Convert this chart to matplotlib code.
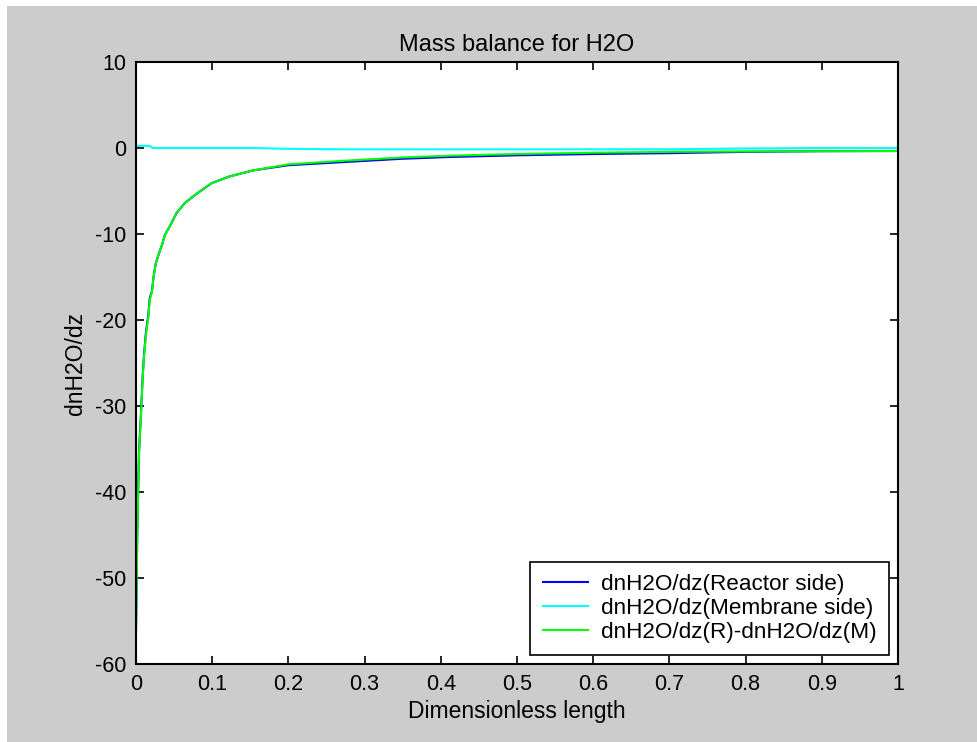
import matplotlib
matplotlib.use("Agg")
import matplotlib.pyplot as plt
from matplotlib.patches import Rectangle

plt.rcParams['font.family'] = ['Liberation Sans', 'DejaVu Sans']
plt.rcParams['axes.unicode_minus'] = False

# dimensionless length (solver steps) and the three derivative series
z = [0, 0.0017, 0.0039, 0.0066, 0.0088, 0.0105, 0.013, 0.016, 0.018, 0.021,
     0.023, 0.026, 0.030, 0.034, 0.038, 0.045, 0.053, 0.064, 0.080, 0.099,
     0.123, 0.154, 0.20, 0.27, 0.35, 0.41, 0.50, 0.60, 0.70, 0.80, 0.90, 1.0]
reactor = [-56.15, -44.55, -35.45, -30.75, -26.45, -24.05, -21.45, -19.55, -17.45, -16.65,
           -15.0, -13.4, -12.3, -11.3, -10.1, -9.0, -7.6, -6.4, -5.3, -4.1,
           -3.3, -2.6, -2.0, -1.65, -1.25, -1.05, -0.85, -0.7, -0.6, -0.45, -0.37, -0.35]
membrane = [0.25, 0.25, 0.25, 0.25, 0.25, 0.25, 0.25, 0.25, 0.25, 0.05,
            0.0, 0.0, 0.0, 0.0, 0.0, 0.0, 0.0, 0.0, 0.0, 0.0,
            0.0, 0.0, -0.1, -0.15, -0.15, -0.15, -0.15, -0.15, -0.15, -0.05, 0.0, 0.0]
difference = [-56.4, -44.8, -35.7, -31.0, -26.7, -24.3, -21.7, -19.8, -17.7, -16.7,
              -15.0, -13.4, -12.3, -11.3, -10.1, -9.0, -7.6, -6.4, -5.3, -4.1,
              -3.3, -2.6, -1.9, -1.5, -1.1, -0.9, -0.7, -0.55, -0.45, -0.4, -0.37, -0.35]

labels = ['dnH2O/dz(Reactor side)', 'dnH2O/dz(Membrane side)', 'dnH2O/dz(R)-dnH2O/dz(M)']
xticks = [0, 0.1, 0.2, 0.3, 0.4, 0.5, 0.6, 0.7, 0.8, 0.9, 1]
yticks = [-60, -50, -40, -30, -20, -10, 0, 10]

fig = plt.figure(figsize=(9.78, 7.42), dpi=100, facecolor='white')
# grey MATLAB figure area (thin white strip at top and left as in the screenshot)
fig.patches.append(Rectangle((7 / 978, 0), 1, 1 - 6 / 742, transform=fig.transFigure,
                             facecolor='#cccccc', edgecolor='none', zorder=-1))

ax = fig.add_axes([136 / 978, 1 - 664 / 742, 762 / 978, 602 / 742])
ax.plot(z, reactor, color='#0000ff', lw=1.5, label=labels[0])
ax.plot(z, membrane, color='#00ffff', lw=1.5, label=labels[1])
ax.plot(z, difference, color='#00ff00', lw=1.5, label=labels[2])

ax.set_xlim(0, 1)
ax.set_ylim(-60, 10)
ax.set_xticks(xticks)
ax.set_xticklabels([f'{t:g}' for t in xticks])
ax.set_yticks(yticks)
ax.tick_params(direction='in', length=6, width=1.2, top=True, right=True,
               labelsize=15.5, pad=7, colors='black')
for s in ax.spines.values():
    s.set_linewidth(1.5)

ax.set_title('Mass balance for H2O', fontsize=17, pad=8)
ax.set_xlabel('Dimensionless length', fontsize=16.5, labelpad=4)
ax.set_ylabel('dnH2O/dz', fontsize=16.5, labelpad=6)

leg = ax.legend(loc='lower right', fontsize=16.2, fancybox=False, framealpha=1,
                edgecolor='black', handlelength=2.0, borderaxespad=0.4,
                labelspacing=0.12, handletextpad=0.6, borderpad=0.55)
leg.get_frame().set_linewidth(1.2)

fig.savefig('out.png', dpi=100, facecolor=fig.get_facecolor())
